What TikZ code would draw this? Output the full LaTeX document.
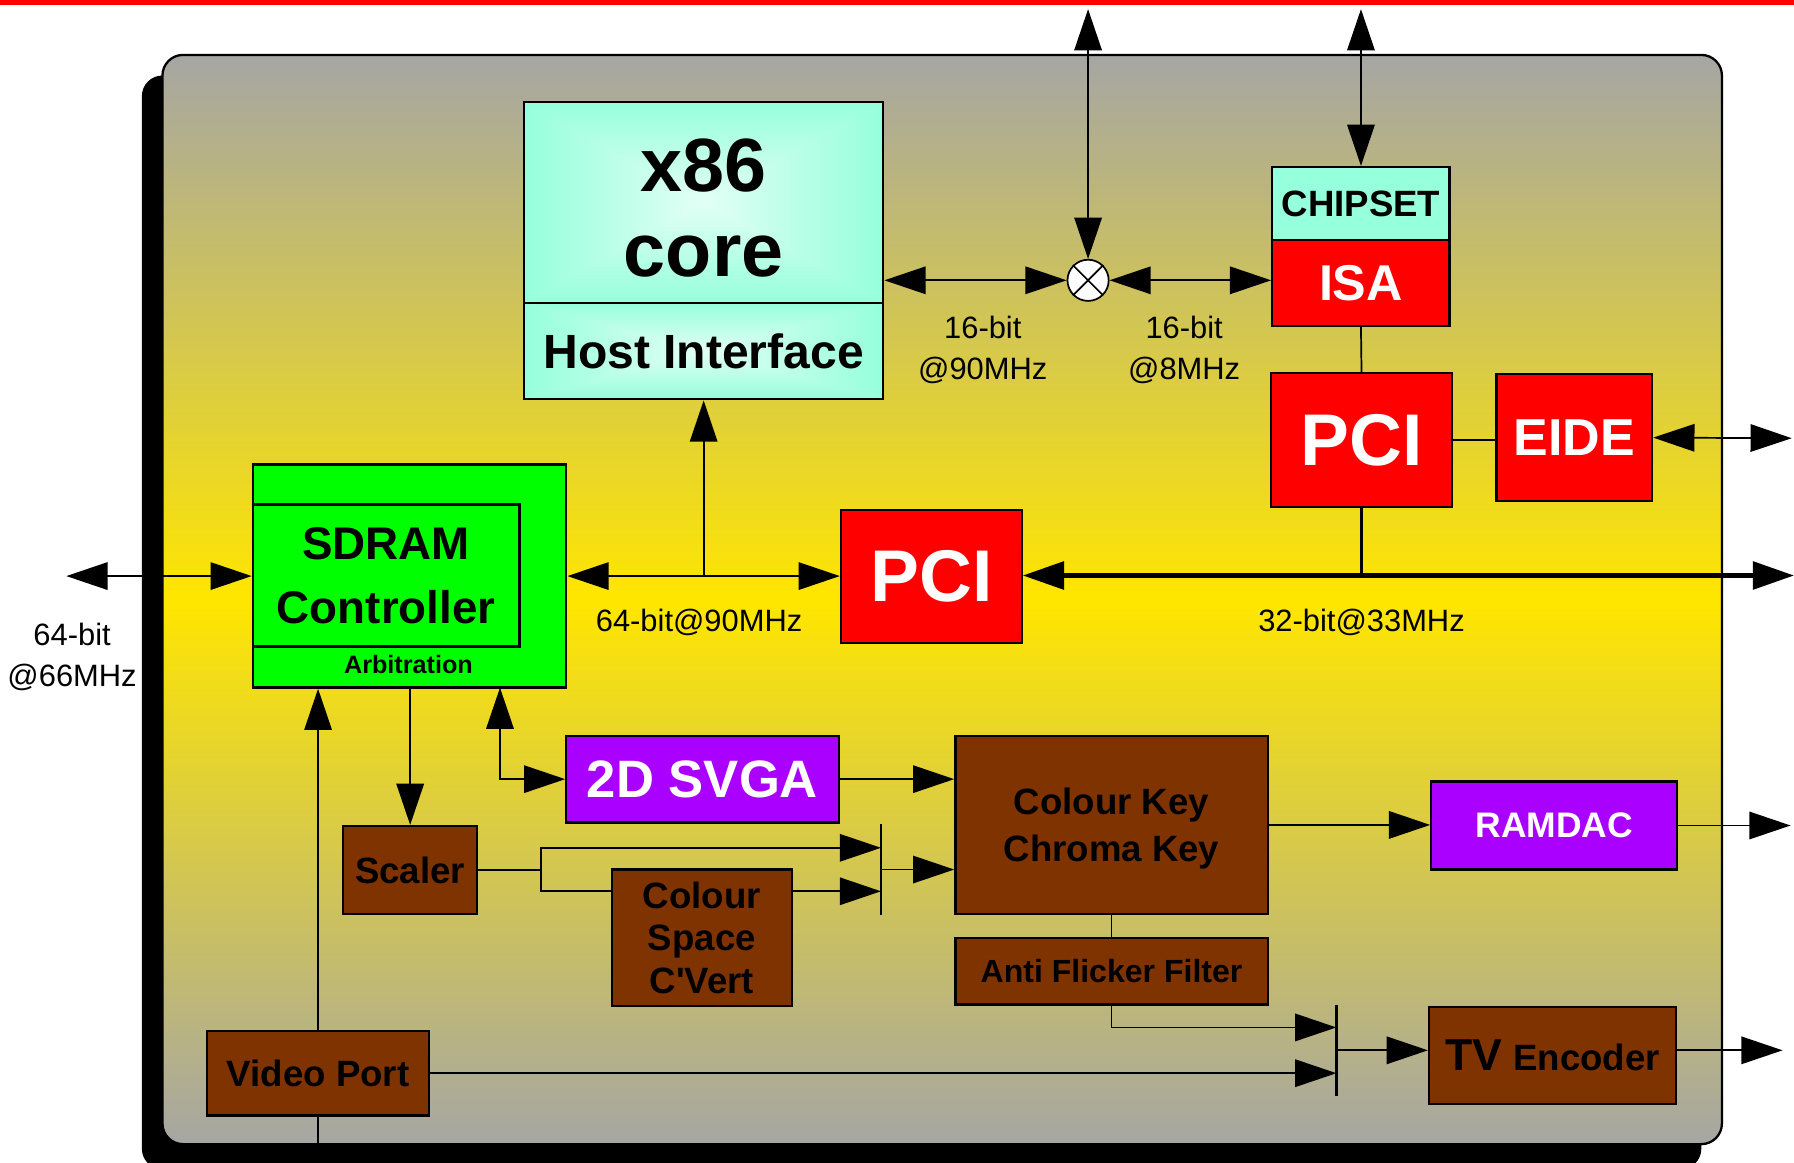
\documentclass[tikz,border=0pt]{standalone}
\usepackage{fontspec}
\setmainfont{Liberation Sans}[Ligatures=TeXOff]
\usetikzlibrary{arrows.meta,calc}
\definecolor{aquam}{RGB}{150,255,220}
\definecolor{sdgreen}{RGB}{0,255,0}
\definecolor{purp}{RGB}{170,0,255}
\definecolor{brwn}{RGB}{127,51,0}
\definecolor{panelgray}{RGB}{166,166,164}
\definecolor{panelyellow}{RGB}{255,230,0}
\newcommand{\fsz}[2]{\fontsize{#1}{#2}\selectfont}
\tikzset{
  box/.style={draw=black, line width=1pt, inner sep=0pt, align=center},
  redbox/.style={box, fill=red, text=white},
  purpbox/.style={box, fill=purp, text=white},
  brownbox/.style={box, fill=brwn, text=black},
  aqbox/.style={box, fill=aquam, text=black},
  greenbox/.style={box, fill=sdgreen, text=black},
  conn/.style={line width=0.75pt},
  busline/.style={line width=2pt},
  barline/.style={line width=1.3pt},
  lbl/.style={inner sep=0pt, align=center, font=\fsz{13.5}{18}},
  pyr/.style={path picture={
    \foreach \i in {0,...,24}{
      \pgfmathtruncatemacro\mym{\i*3}
      \pgfmathsetmacro\myt{\i/50}
      \fill[white!\mym!aquam]
        ($(path picture bounding box.south west)!\myt!(path picture bounding box.north east)$)
        rectangle
        ($(path picture bounding box.north east)!\myt!(path picture bounding box.south west)$);
    }}},
}
\begin{document}
\begin{tikzpicture}[x=0.5pt,y=-0.5pt,>={Triangle[length=18pt,width=12pt]}]
\useasboundingbox (0,0) rectangle (1568,1016);
\clip (0,0) rectangle (1568,1016);
% top red rule
\fill[red] (0,0) rectangle (1568,4.5);
% panel with shadow
\fill[black, rounded corners=9pt] (124,66) rectangle (1487,1022);
\draw[line width=1pt, rounded corners=9pt, top color=panelgray, bottom color=panelgray, middle color=panelyellow] (142,48) rectangle (1505,1000);

% blocks
\node[aqbox, pyr, minimum width=157pt, minimum height=88pt, font=\bfseries\fsz{33}{37}] (x86) at (615,177) {\rule{0pt}{27.6pt}x86\\core};
\node[aqbox, pyr, minimum width=157pt, minimum height=42pt, font=\bfseries\fsz{21}{21}] (host) at (615,307) {Host Interface};
\node[aqbox, minimum width=77.5pt, minimum height=32pt, font=\bfseries\fsz{16}{16}] (chipset) at (1189.5,178) {CHIPSET};
\node[redbox, minimum width=77.5pt, minimum height=37.5pt, font=\bfseries\fsz{22}{22}] (isa) at (1189.5,247.5) {ISA};
\node[redbox, minimum width=79pt, minimum height=58.5pt, font=\bfseries\fsz{32}{32}] (pcib) at (1190,384.5) {PCI};
\node[redbox, minimum width=68pt, minimum height=55.5pt, font=\bfseries\fsz{22.7}{22.7}] (eide) at (1376,382.5) {EIDE};
\node[redbox, minimum width=79pt, minimum height=58pt, font=\bfseries\fsz{32}{32}] (pcia) at (814,504) {PCI};
\node[greenbox, minimum width=137pt, minimum height=97.5pt] (sdram) at (358,503.5) {};
\node[greenbox, minimum width=116.5pt, minimum height=62pt, font=\bfseries\fsz{20}{28}] (sdin) at (337.5,503) {SDRAM\\Controller};
\node[inner sep=0pt, font=\bfseries\fsz{11}{11}] (arb) at (357,580.5) {Arbitration};
\node[purpbox, minimum width=119pt, minimum height=38pt, font=\bfseries\fsz{23}{23}] (svga) at (614,681) {2D SVGA};
\node[brownbox, minimum width=136.5pt, minimum height=78pt, text depth=0pt, font=\bfseries\fsz{16}{20.5}] (ck) at (971.5,721) {Colour Key\\Chroma Key};
\node[purpbox, minimum width=107.5pt, minimum height=38.5pt, font=\bfseries\fsz{15.5}{15.5}] (ramdac) at (1358.5,721.5) {RAMDAC};
\node[brownbox, minimum width=58.5pt, minimum height=38.5pt, font=\bfseries\fsz{16}{16}] (scaler) at (358.5,760.5) {Scaler};
\node[brownbox, minimum width=78.5pt, minimum height=59.5pt, font=\bfseries\fsz{16}{18.5}] (csc) at (613.5,819.5) {Colour\\Space\\C'Vert};
\node[brownbox, minimum width=136.5pt, minimum height=29pt, text depth=0pt, font=\bfseries\fsz{14}{14}] (aff) at (971.5,849) {Anti Flicker Filter};
\node[brownbox, minimum width=97pt, minimum height=37pt, font=\bfseries\fsz{16}{16}] (vp) at (278,938) {Video Port};
\node[brownbox, minimum width=108pt, minimum height=42.5pt, font=\bfseries] (tv) at (1357,922.5) {{\fsz{19.5}{19.5}TV}\hspace{2pt} {\fsz{16}{16}Encoder}};

% mixer
\node[circle, draw, fill=white, minimum size=18pt, inner sep=0pt, line width=0.75pt] (xor) at (951,245) {};
\draw[conn] (xor.north west) -- (xor.south east);
\draw[conn] (xor.north east) -- (xor.south west);

% coordinates
\coordinate (t1) at (951,8);
\coordinate (t2) at (1189.5,8);
\coordinate (eo) at (1566,383);
\coordinate (bo) at (1568,503);
\coordinate (sl) at (58,503.5);
\coordinate (j1) at (615,503.5);
\coordinate (vb) at (278,1000);
\coordinate (sa) at (437,601);
\coordinate (sp) at (473,760.5);
\coordinate (b1t) at (770,720);
\coordinate (b1b) at (770,800);
\coordinate (b1u) at (770,741);
\coordinate (b1l) at (770,779);
\coordinate (b1m) at (770,760);
\coordinate (b2t) at (1168,878);
\coordinate (b2b) at (1168,958);
\coordinate (b2u) at (1168,898);
\coordinate (b2l) at (1168,938);
\coordinate (b2m) at (1168,918);
\coordinate (ro) at (1565,721.5);
\coordinate (to) at (1558,918);

% connectors
\draw[conn,<->] (t1) -- (xor.north);
\draw[conn,<->] (x86.east |- xor) -- (xor.west);
\draw[conn,<->] (xor.east) -- (isa.west |- xor);
\draw[conn,<->] (t2) -- (chipset.north);
\draw[conn] (isa.south) -- (pcib.north);
\draw[conn] (pcib.east) -- (pcib.east -| eide.west);
\draw[conn,<->] (eide.east) -- (eo);
\draw[busline,<->] (pcia.east |- bo) -- (bo);
\draw[line width=1.5pt] (pcib.south) -- (pcib.south |- bo);
\draw[conn,<->] (sl) -- (sdram.west);
\draw[conn,<->] (sdram.east) -- (sdram.east -| pcia.west);
\draw[conn,->] (j1) -- (host.south);
\draw[conn,->] (vp.north) -- (vp.north |- sdram.south);
\draw[conn] (vp.south) -- (vb);
\draw[conn,->] (sdram.south -| scaler.north) -- (scaler.north);
\draw[conn,<->] (sa) |- (svga.west);
\draw[conn,->] (svga.east) -- (svga.east -| ck.west);
\draw[barline] (b1t) -- (b1b);
\draw[conn] (scaler.east) -- (sp);
\draw[conn,->] (sp) |- (b1u);
\draw[conn] (sp) |- (csc.west |- b1l);
\draw[conn,->] (csc.east |- b1l) -- (b1l);
\draw[conn,->] (b1m) -- (b1m -| ck.west);
\draw[conn,->] (ck.east) -- (ck.east -| ramdac.west);
\draw[conn,->] (ramdac.east) -- (ro);
\draw[conn] (ck.south) -- (aff.north);
\draw[barline] (b2t) -- (b2b);
\draw[conn,->] (aff.south) |- (b2u);
\draw[conn,->] (vp.east) -- (vp.east -| b2l);
\draw[conn,->] (b2m) -- (b2m -| tv.west);
\draw[conn,->] (tv.east |- to) -- (to);

% bus labels
\node[lbl] (l1) at (859,306) {16-bit\\@90MHz};
\node[lbl] (l2) at (1035,306) {16-bit\\@8MHz};
\node[lbl] (l3) at (611,544) {64-bit@90MHz};
\node[lbl] (l4) at (1190,544) {32-bit@33MHz};
\node[lbl] (l5) at (63,574) {64-bit\\@66MHz};
\end{tikzpicture}
\end{document}
